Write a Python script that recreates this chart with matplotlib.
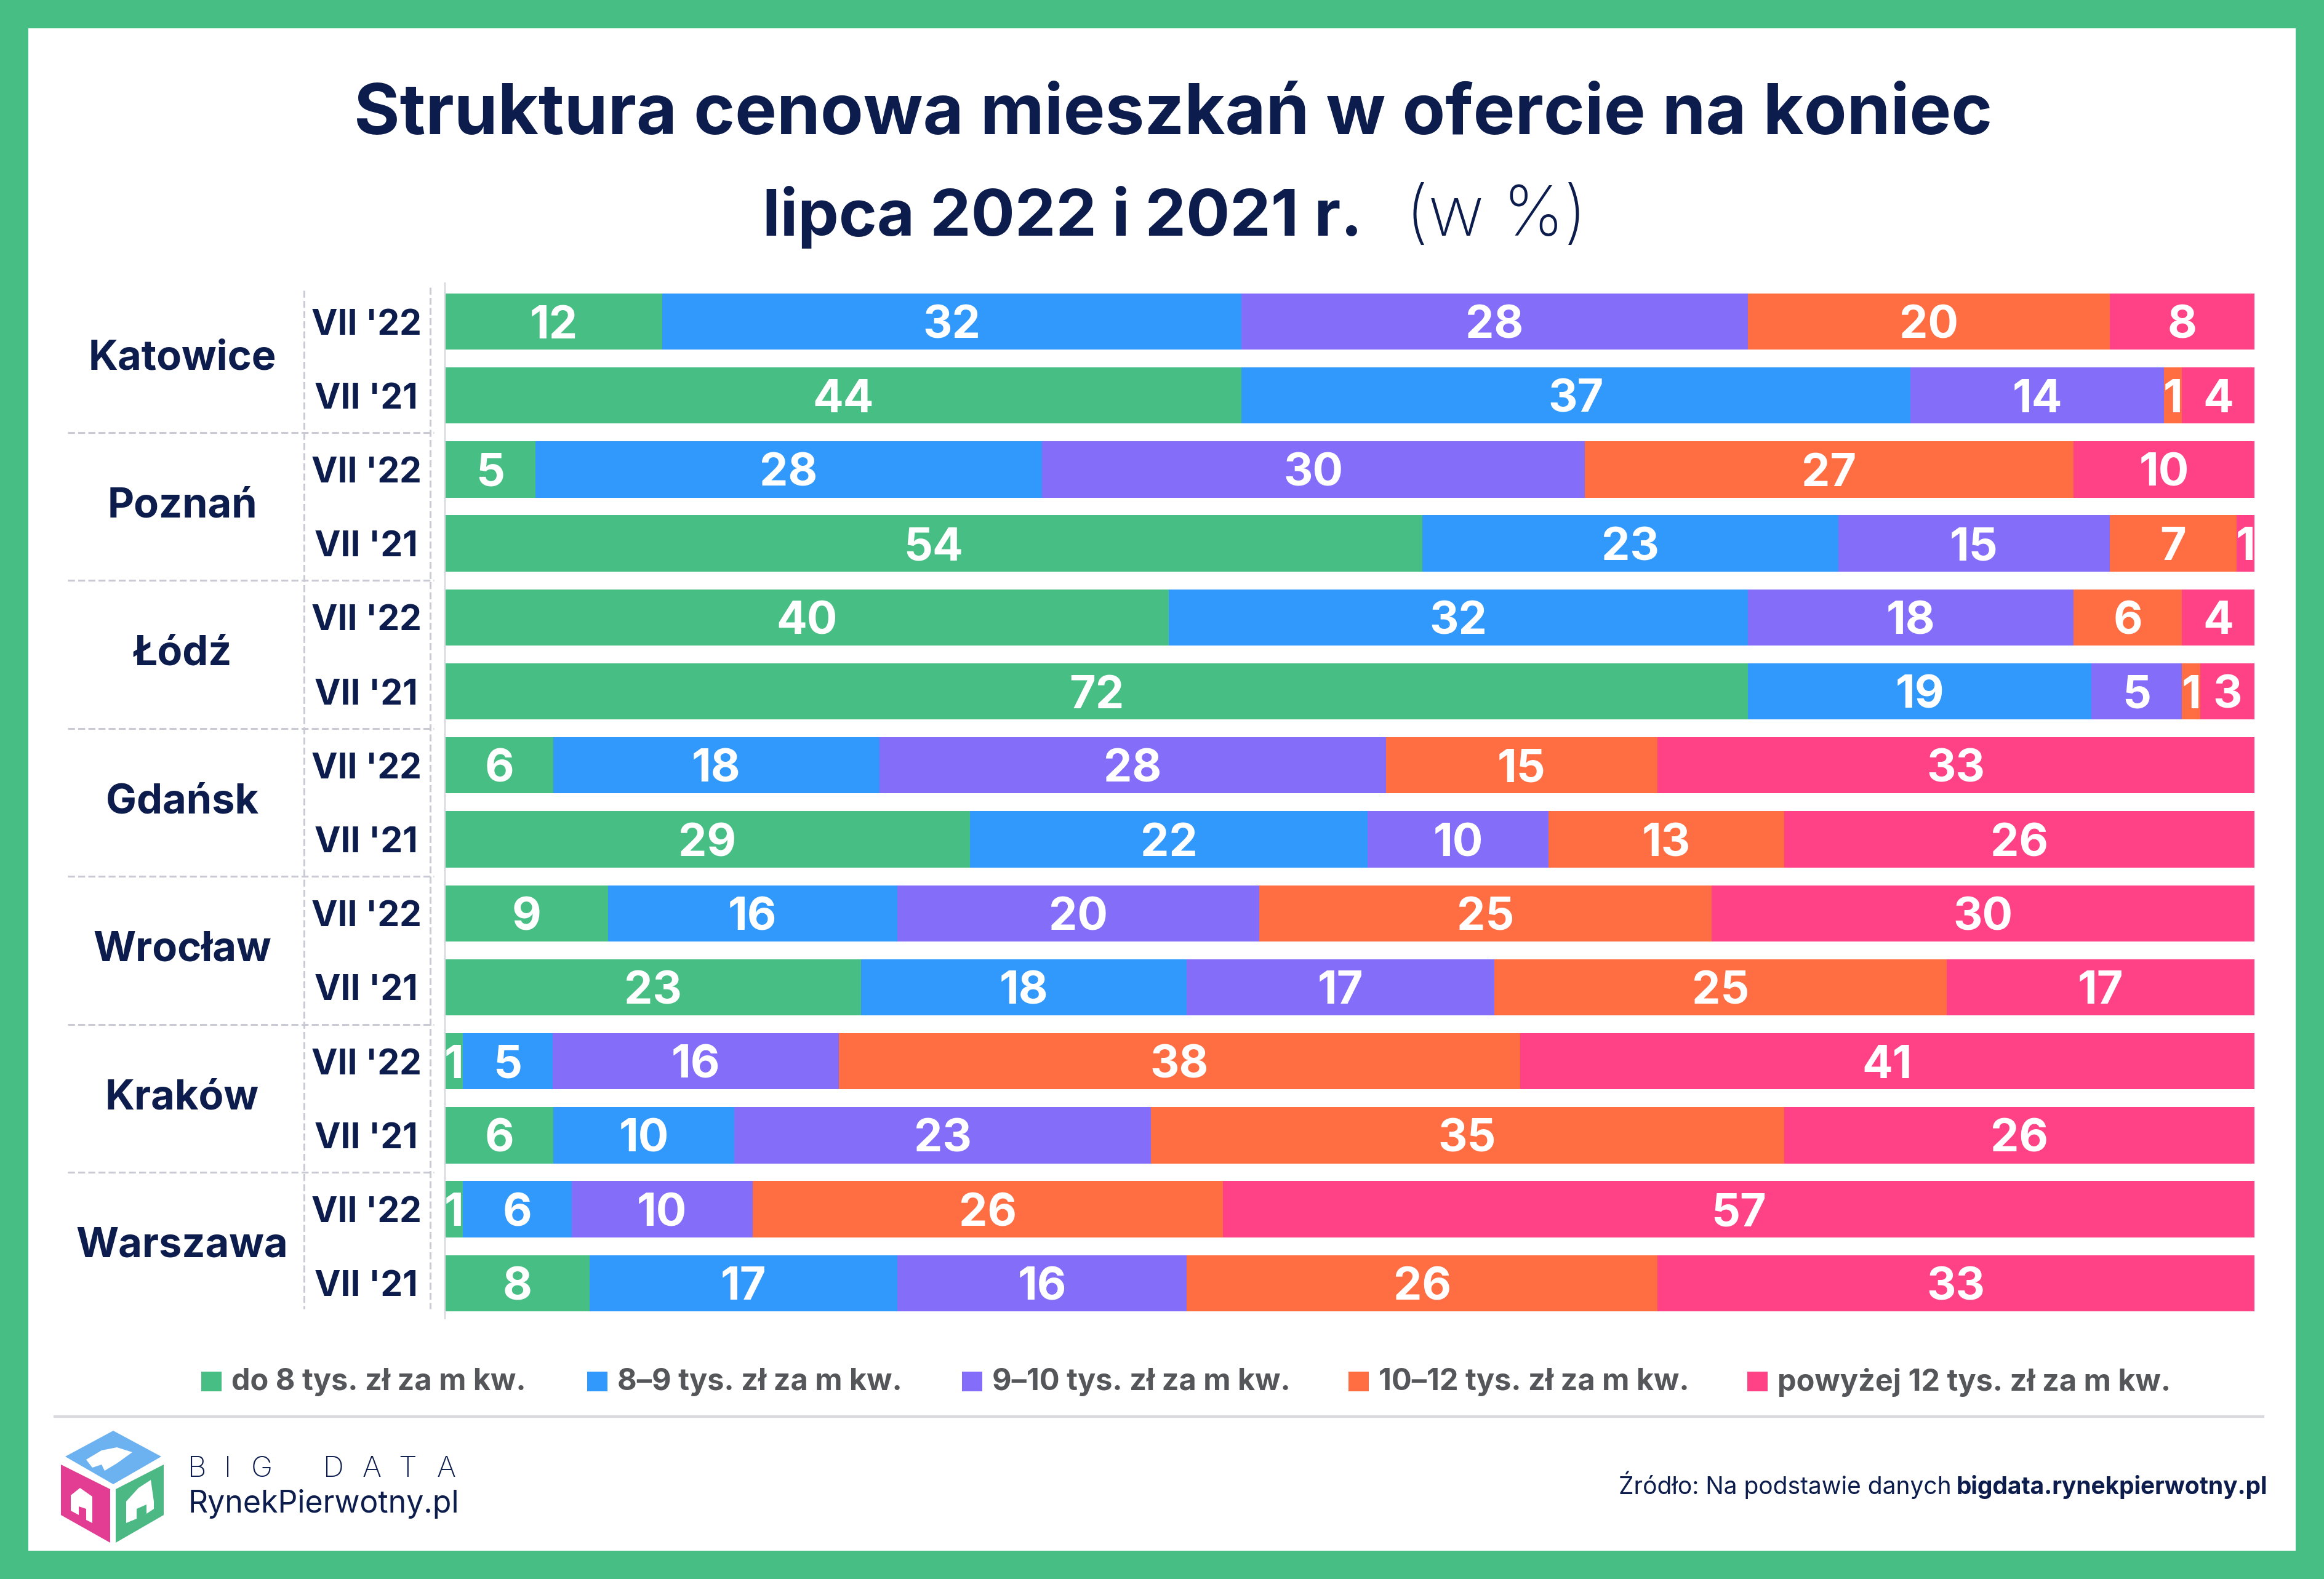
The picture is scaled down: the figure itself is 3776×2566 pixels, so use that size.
import matplotlib
matplotlib.use("Agg")
import matplotlib.pyplot as plt
import matplotlib.transforms as mtransforms
from matplotlib.patches import Rectangle, Polygon
import numpy as np

# data (top to bottom)
cities = ["Katowice", "Poznań", "Łódź", "Gdańsk", "Wrocław", "Kraków", "Warszawa"]
periods = ["VII '22", "VII '21"]
categories = [
    "do 8 tys. zł za m kw.",
    "8–9 tys. zł za m kw.",
    "9–10 tys. zł za m kw.",
    "10–12 tys. zł za m kw.",
    "powyżej 12 tys. zł za m kw.",
]
share_do8 = [12, 44, 5, 54, 40, 72, 6, 29, 9, 23, 1, 6, 1, 8]
share_8_9 = [32, 37, 28, 23, 32, 19, 18, 22, 16, 18, 5, 10, 6, 17]
share_9_10 = [28, 14, 30, 15, 18, 5, 28, 10, 20, 17, 16, 23, 10, 16]
share_10_12 = [20, 1, 27, 7, 6, 1, 15, 13, 25, 25, 38, 35, 26, 26]
share_12plus = [8, 4, 10, 1, 4, 3, 33, 26, 30, 17, 41, 26, 57, 33]

colors = ["#47be84", "#3199fc", "#846df8", "#ff6d42", "#ff4185"]
NAVY = "#0c1c4c"
BORDER = "#47be84"
FONT = ["Inter", "DejaVu Sans"]
plt.rcParams["font.family"] = FONT

W, H = 3776, 2566
fig = plt.figure(figsize=(W / 100, H / 100), dpi=100, facecolor=BORDER)


def fx(x):
    return x / W


def fy(y):
    return 1 - y / H


# white card inside the green frame
fig.patches.append(Rectangle((fx(46), fy(2520)), fx(3730) - fx(46), fy(46) - fy(2520),
                             transform=fig.transFigure, facecolor="white", edgecolor="none", zorder=-5))

# title
fig.text(fx(1906), fy(218), "Struktura cenowa mieszkań w ofercie na koniec", ha="center",
         va="baseline", fontsize=82, fontweight="bold", color=NAVY)
fig.text(fx(2214), fy(383), "lipca 2022 i 2021 r.", ha="right", va="baseline",
         fontsize=76, fontweight="bold", color=NAVY)
fig.text(fx(2284), fy(383), "(w %)", ha="left", va="baseline",
         fontsize=80, fontweight="light", color=NAVY)

# bars
ax = fig.add_axes([fx(723), fy(2143), fx(3663) - fx(723), fy(460) - fy(2143)])
ax.patch.set_alpha(0)
series = np.array([share_do8, share_8_9, share_9_10, share_10_12, share_12plus], dtype=float)
totals = series.sum(axis=0)
widths = series / totals * 100
ypos = np.arange(len(share_do8))
left = np.zeros(len(ypos))
for k in range(len(categories)):
    ax.barh(ypos, widths[k], left=left, height=0.76, color=colors[k], edgecolor="none")
    for i in ypos:
        ax.text(left[i] + widths[k][i] / 2, i, str(int(series[k][i])), ha="center",
                va="center_baseline", fontsize=53, fontweight="bold", color="white")
    left += widths[k]

ax.set_xlim(0, 100)
ax.set_ylim(13.48, -0.52)
ax.set_xticks([])
ax.set_yticks([])
for s in ["top", "right", "bottom"]:
    ax.spines[s].set_visible(False)
ax.spines["left"].set_color("#d5d6dd")
ax.spines["left"].set_linewidth(1.6)

# left labels
tr = mtransforms.blended_transform_factory(fig.transFigure, ax.transData)
for g, city in enumerate(cities):
    ax.text(fx(296), 2 * g + 0.5, city, transform=tr, ha="center", va="center",
            fontsize=48, fontweight="bold", color=NAVY)
    for j, p in enumerate(periods):
        ax.text(fx(595), 2 * g + j, p, transform=tr, ha="center", va="center_baseline",
                fontsize=41, fontweight="bold", color=NAVY)

dash_kw = dict(transform=tr, color="#c9cad3", lw=2.2, dashes=(3.7, 1.7), clip_on=False)
for g in range(1, len(cities)):
    ax.plot([fx(110), fx(705)], [2 * g - 0.5, 2 * g - 0.5], **dash_kw)
ax.plot([fx(494), fx(494)], [-0.42, 13.35], **dash_kw)
ax.plot([fx(699), fx(699)], [-0.46, 13.35], **dash_kw)

# legend
leg_x = [327, 954, 1563, 2191, 2839]
for x0, c, lab in zip(leg_x, colors, categories):
    fig.patches.append(Rectangle((fx(x0), fy(2261)), fx(33), fy(0) - fy(32),
                                 transform=fig.transFigure, facecolor=c, edgecolor="none"))
    fig.text(fx(x0 + 49), fy(2246), lab, ha="left", va="center", fontsize=35,
             fontweight="bold", color="#55565a")

# separator
fig.lines.append(plt.Line2D([fx(89), fx(3677)], [fy(2302), fy(2302)], transform=fig.transFigure,
                            color="#d9d9de", lw=3))

# logo
top_face = [(184, 2325), (262, 2367), (184, 2412), (106, 2367)]
left_face = [(99, 2380), (179, 2420), (179, 2507), (99, 2462)]
right_face = [(188, 2420), (266, 2380), (266, 2462), (188, 2507)]
for pts, c in [(top_face, "#6cb2f0"), (left_face, "#e33d93"), (right_face, "#4cb884")]:
    fig.patches.append(Polygon([(fx(a), fy(b)) for a, b in pts], closed=True,
                               transform=fig.transFigure, facecolor=c, edgecolor="none"))
house_l = [(115, 2430), (130, 2418), (150, 2432), (150, 2475), (140, 2470), (140, 2452),
           (128, 2448), (128, 2462), (115, 2455)]
house_r = [(205, 2475), (205, 2440), (225, 2418), (245, 2405), (250, 2440), (250, 2452),
           (238, 2460), (238, 2445), (222, 2452), (222, 2468)]
house_t = [(140, 2372), (165, 2357), (190, 2352), (215, 2360), (190, 2378), (170, 2390),
           (165, 2380), (150, 2385)]
for pts in [house_l, house_r, house_t]:
    fig.patches.append(Polygon([(fx(a), fy(b)) for a, b in pts], closed=True,
                               transform=fig.transFigure, facecolor="white", edgecolor="none"))

for ch, xc in zip("BIGDATA", [320, 370, 425, 542, 604, 662, 725]):
    fig.text(fx(xc), fy(2400), ch, ha="center", va="baseline", fontsize=34,
             fontweight="light", color=NAVY)
fig.text(fx(306), fy(2458), "RynekPierwotny.pl", ha="left", va="baseline", fontsize=36,
         color=NAVY)

# source
renderer = fig.canvas.get_renderer()
src_b = fig.text(fx(3684), fy(2428), "bigdata.rynekpierwotny.pl", ha="right", va="baseline",
                 fontsize=28, fontweight="bold", color=NAVY)
bb = src_b.get_window_extent(renderer=renderer)
fig.text(bb.x0 / W - fx(8), fy(2428), "Źródło: Na podstawie danych", ha="right", va="baseline",
         fontsize=28, color=NAVY)

fig.savefig("out.png", dpi=100, facecolor=BORDER)
